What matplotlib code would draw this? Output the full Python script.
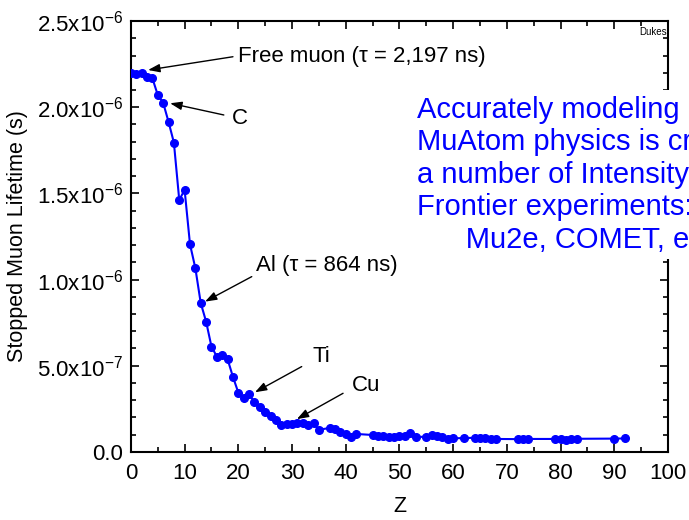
import numpy as np
import matplotlib.pyplot as plt
from matplotlib.ticker import MultipleLocator, FuncFormatter

plt.rcParams['font.family'] = ['Liberation Sans', 'DejaVu Sans']
plt.rcParams['mathtext.fontset'] = 'custom'
plt.rcParams['mathtext.rm'] = 'Liberation Sans'
plt.rcParams['mathtext.it'] = 'Liberation Sans'

# Z and stopped muon lifetime (units of 1e-6 s)
z_values = [0, 1, 2, 3, 4, 5, 6, 7, 8, 9, 10, 11, 12, 13, 14, 15, 16, 17, 18, 19,
            20, 21, 22, 23, 24, 25, 26, 27, 28, 29, 30, 31, 32, 33, 34, 35, 37, 38,
            39, 40, 41, 42, 45, 46, 47, 48, 49, 50, 51, 52, 53, 55, 56, 57, 58, 59,
            60, 62, 64, 65, 66, 67, 68, 72, 73, 74, 79, 80, 81, 82, 83, 90, 92]
lifetime_us = [2.197, 2.195, 2.198, 2.173, 2.168, 2.071, 2.026, 1.916, 1.795, 1.462,
               1.520, 1.205, 1.066, 0.864, 0.756, 0.611, 0.553, 0.561, 0.538, 0.435,
               0.344, 0.313, 0.334, 0.288, 0.261, 0.233, 0.210, 0.186, 0.157, 0.160,
               0.162, 0.166, 0.170, 0.156, 0.168, 0.128, 0.139, 0.130, 0.118, 0.106,
               0.089, 0.104, 0.098, 0.095, 0.090, 0.085, 0.085, 0.090, 0.095, 0.108,
               0.085, 0.089, 0.098, 0.093, 0.087, 0.076, 0.079, 0.080, 0.082, 0.078,
               0.078, 0.076, 0.075, 0.074, 0.076, 0.075, 0.075, 0.077, 0.071, 0.075,
               0.076, 0.077, 0.078]

# annotations: label, arrow head (Z, us), arrow tail (Z, us), text anchor (Z, us)
ann_labels = ['Free muon (\u03c4 = 2,197 ns)', 'C', 'Al (\u03c4 = 864 ns)', 'Ti', 'Cu']
ann_heads = [(3.2, 2.216), (7.3, 2.023), (13.8, 0.872), (23.1, 0.346), (30.9, 0.190)]
ann_tails = [(19.0, 2.293), (17.3, 1.955), (22.5, 1.017), (31.8, 0.495), (39.5, 0.340)]
ann_text = [(19.9, 2.297), (18.8, 1.937), (23.3, 1.079), (33.9, 0.551), (41.2, 0.383)]

note = ('Accurately modeling \nMuAtom physics is critical to\n'
        'a number of Intensity\nFrontier experiments:\n      Mu2e, COMET, etc.')

z = np.array(z_values)
tau = np.array(lifetime_us) * 1e-6

fig = plt.figure(figsize=(6.89, 5.2), dpi=100)
ax = fig.add_axes([0.190, 0.131, 0.7795, 0.8285])

ax.plot(z, tau, color='#0000ff', lw=1.5, marker='o', ms=5.5, zorder=3)

for lab, head, tail, txt in zip(ann_labels, ann_heads, ann_tails, ann_text):
    ax.annotate('', xy=(head[0], head[1] * 1e-6), xytext=(tail[0], tail[1] * 1e-6),
                arrowprops=dict(arrowstyle='-|>,head_length=0.7,head_width=0.25',
                                color='black', lw=1, shrinkA=0, shrinkB=0))
    ax.text(txt[0], txt[1] * 1e-6, lab, ha='left', va='center', fontsize=16)

ax.set_xlim(0, 100)
ax.set_ylim(0, 2.5e-6)
ax.xaxis.set_major_locator(MultipleLocator(10))
ax.xaxis.set_minor_locator(MultipleLocator(5))
ax.yaxis.set_major_locator(MultipleLocator(0.5e-6))
ax.yaxis.set_minor_locator(MultipleLocator(0.1e-6))


def sci_fmt(v, pos):
    if abs(v) < 1e-12:
        return '0.0'
    e = int(np.floor(np.log10(abs(v)) + 1e-9))
    m = v / 10 ** e
    return r'$\mathregular{%.1fx10^{%d}}$' % (m, e)


ax.yaxis.set_major_formatter(FuncFormatter(sci_fmt))
ax.tick_params(which='both', direction='in', top=True, right=True, labelsize=16, width=1.2)
ax.tick_params(which='major', length=6)
ax.tick_params(which='minor', length=3.5)
ax.tick_params(axis='x', which='major', pad=8)
ax.tick_params(axis='y', which='major', pad=6)
for s in ax.spines.values():
    s.set_linewidth(1.5)

ax.set_xlabel('Z', fontsize=15.5, labelpad=9)
ax.set_ylabel('Stopped Muon Lifetime (s)', fontsize=15.5, labelpad=6)

fig.text(667 / 689, 1 - 32 / 520, 'Dukes', fontsize=7, ha='right', va='center')

fig.text(417 / 689, 1 - 96 / 520, note, color='#0000ff', fontsize=21, ha='left', va='top',
         linespacing=1.2, bbox=dict(facecolor='white', edgecolor='none', pad=4))

fig.savefig('out.png', dpi=100)
